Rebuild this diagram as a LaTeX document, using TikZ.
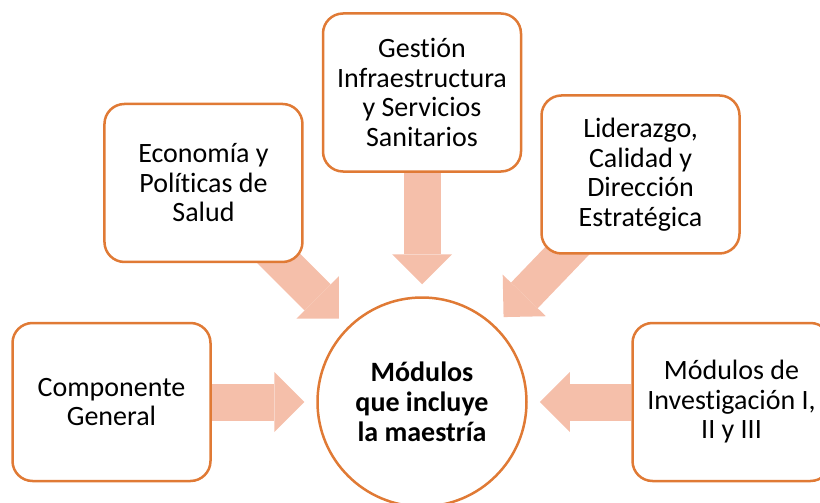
\documentclass[tikz,border=0pt]{standalone}
\usepackage{fontspec}
\setmainfont{Carlito}[Ligatures=NoCommon]
\usetikzlibrary{positioning, backgrounds, arrows.meta}

\definecolor{modline}{HTML}{E07A35}
\definecolor{modarrow}{HTML}{F5BFAA}

\begin{document}
\begin{tikzpicture}[
    x=1pt, y=-1pt,
    module/.style={
        rectangle,
        rounded corners=20pt,
        draw=modline,
        line width=2.5pt,
        fill=white,
        align=center,
        minimum width=198pt,
        minimum height=158pt,
        font=\fontsize{28}{29.5}\selectfont
    },
    hub/.style={
        circle,
        draw=modline,
        line width=2.5pt,
        fill=white,
        minimum size=209pt,
        align=center,
        font=\fontsize{28}{30}\selectfont\bfseries
    },
    flow/.style={
        -{Triangle[width=60pt, length=30pt, line width=0pt]},
        line width=37pt,
        modarrow,
        shorten >=12pt
    }
]

% frame of the picture
\useasboundingbox (0,0) rectangle (820,503);
\clip (0,0) rectangle (820,503);

% central circle
\node[hub] (hub) at (422,402) {
    Módulos \\
    que incluye \\
    la maestría
};

% modules round the circle
\node[module, left=104.5pt of hub] (general) {
    Componente \\
    General
};
\node[module, above left=64pt and 43.5pt of hub] (economia) {
    Economía y \\
    Políticas de \\
    Salud
};
\node[module, above=123.5pt of hub] (gestion) {
    Gestión \\
    Infraestructura \\
    y Servicios \\
    Sanitarios
};
\node[module, above right=72.5pt and 43.5pt of hub] (liderazgo) {
    Liderazgo, \\
    Calidad y \\
    Dirección \\
    Estratégica
};
\node[module, right=103.5pt of hub] (investigacion) {
    Módulos de \\
    Investigación I, \\
    II y III
};

% block arrows into the circle
\begin{scope}[on background layer]
    \draw[flow] (general) -- (hub);
    \draw[flow] (economia.center) -- (hub);
    \draw[flow] (gestion) -- (hub);
    \draw[flow] (liderazgo.center) -- (hub);
    \draw[flow] (investigacion) -- (hub);
\end{scope}

\end{tikzpicture}
\end{document}
